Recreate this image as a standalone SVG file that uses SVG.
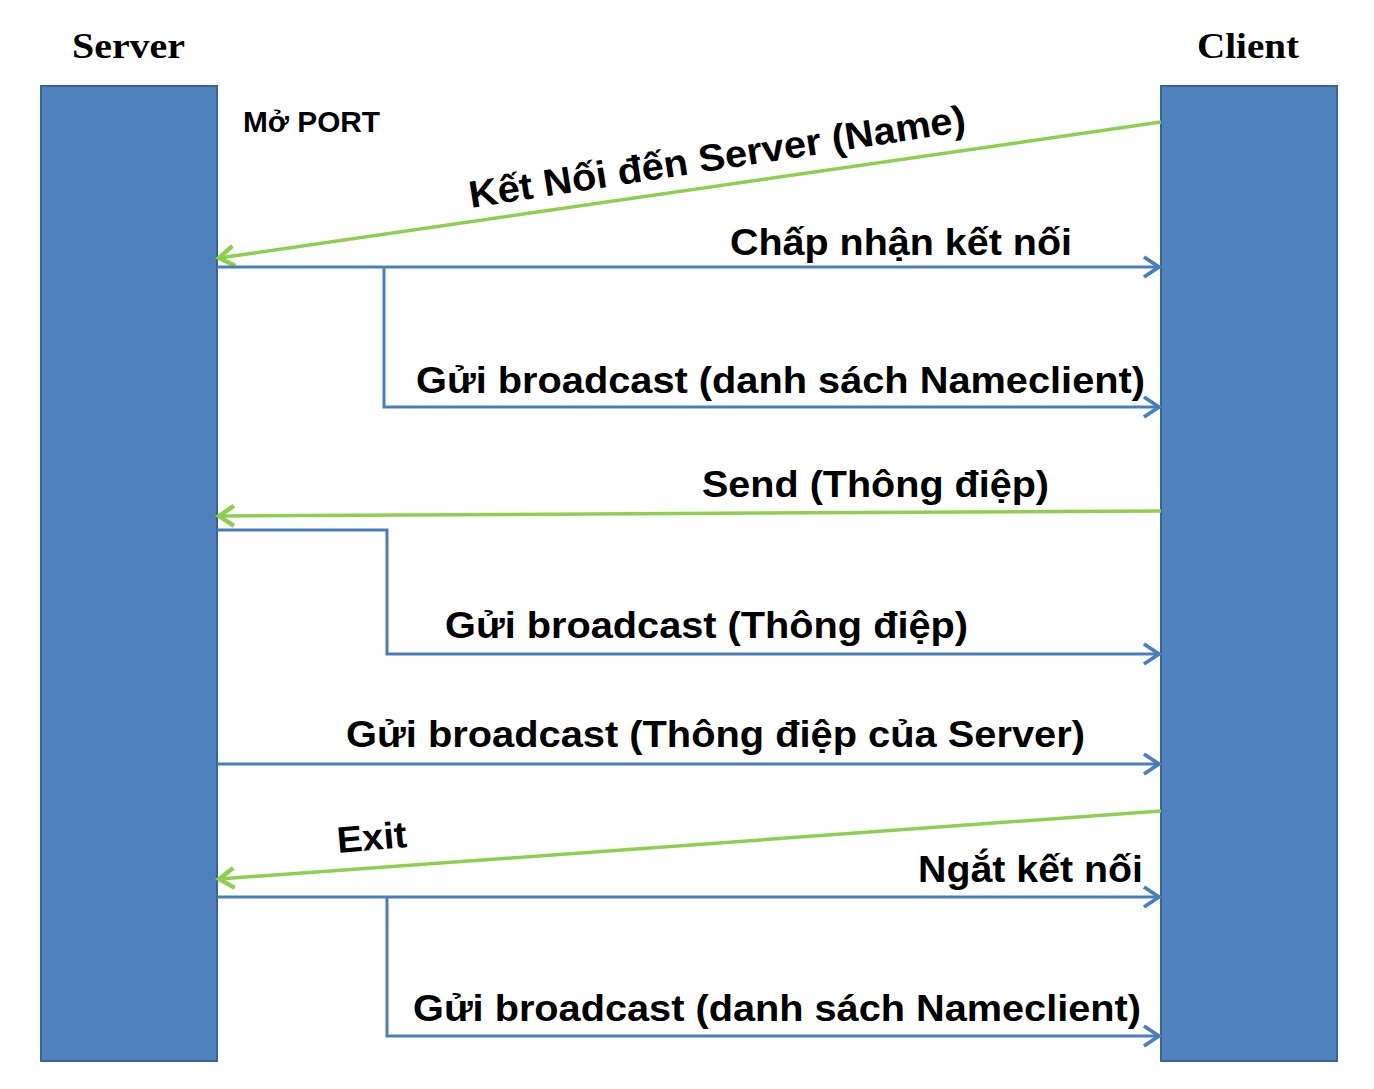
<svg xmlns="http://www.w3.org/2000/svg" width="1374" height="1089" viewBox="0 0 1374 1089">
<defs>
<style>
.lane{fill:#4F81BD;stroke:#3A6394;stroke-width:2}
.title{font-family:"Liberation Serif","Times New Roman",serif;font-weight:bold;font-size:36px;fill:#000}
.lbl{font-family:"Liberation Sans",Arial,sans-serif;font-weight:bold;font-size:37px;fill:#000}
.blue{fill:none;stroke:#4A7EBB;stroke-width:3}
.green{fill:none;stroke:#8DCF4F;stroke-width:3.5}
</style>
<marker id="ab" markerUnits="userSpaceOnUse" markerWidth="30" markerHeight="30" viewBox="-16 -12 20 24" refX="0" refY="0" orient="auto">
<path d="M-12,-8 L0,0 L-12,8" fill="none" stroke="#4A7EBB" stroke-width="3"/>
</marker>
<marker id="ag" markerUnits="userSpaceOnUse" markerWidth="30" markerHeight="30" viewBox="-16 -12 20 24" refX="0" refY="0" orient="auto">
<path d="M-12,-8 L0,0 L-12,8" fill="none" stroke="#8DCF4F" stroke-width="3.5"/>
</marker>
</defs>
<rect width="1374" height="1089" fill="#fff"/>
<g id="server">
<rect class="lane" x="41" y="86" width="176" height="975"/>
<text class="title" x="72" y="58" textLength="113" lengthAdjust="spacingAndGlyphs">Server</text>
</g>
<g id="client">
<rect class="lane" x="1161" y="86" width="176" height="975"/>
<text class="title" x="1197" y="58" textLength="102" lengthAdjust="spacingAndGlyphs">Client</text>
</g>
<g id="connectors">
<line class="green" x1="1161" y1="122" x2="219" y2="258" marker-end="url(#ag)"/>
<line class="blue" x1="217" y1="267" x2="1159" y2="267" marker-end="url(#ab)"/>
<polyline class="blue" points="384,267 384,407 1159,407" marker-end="url(#ab)"/>
<line class="green" x1="1161" y1="511" x2="219" y2="516" marker-end="url(#ag)"/>
<polyline class="blue" points="217,530 387,530 387,654 1159,654" marker-end="url(#ab)"/>
<line class="blue" x1="217" y1="764" x2="1159" y2="764" marker-end="url(#ab)"/>
<line class="green" x1="1161" y1="811" x2="219" y2="879" marker-end="url(#ag)"/>
<line class="blue" x1="217" y1="897" x2="1159" y2="897" marker-end="url(#ab)"/>
<polyline class="blue" points="387,897 387,1036 1159,1036" marker-end="url(#ab)"/>
</g>
<g id="labels">
<text class="lbl" x="243" y="132" style="font-size:29px" textLength="137" lengthAdjust="spacingAndGlyphs">Mở PORT</text>
<text class="lbl" transform="translate(471,208) rotate(-8.8)" x="0" y="0" style="font-size:38px" textLength="502" lengthAdjust="spacingAndGlyphs">Kết Nối đến Server (Name)</text>
<text class="lbl" x="730" y="255" textLength="342" lengthAdjust="spacingAndGlyphs">Chấp nhận kết nối</text>
<text class="lbl" x="416" y="393" textLength="729" lengthAdjust="spacingAndGlyphs">Gửi broadcast (danh sách Nameclient)</text>
<text class="lbl" x="702" y="497" textLength="347" lengthAdjust="spacingAndGlyphs">Send (Thông điệp)</text>
<text class="lbl" x="445" y="638" textLength="523" lengthAdjust="spacingAndGlyphs">Gửi broadcast (Thông điệp)</text>
<text class="lbl" x="346" y="747" textLength="739" lengthAdjust="spacingAndGlyphs">Gửi broadcast (Thông điệp của Server)</text>
<text class="lbl" transform="translate(338,853) rotate(-5)" x="0" y="0" textLength="70" lengthAdjust="spacingAndGlyphs">Exit</text>
<text class="lbl" x="918" y="882" textLength="225" lengthAdjust="spacingAndGlyphs">Ngắt kết nối</text>
<text class="lbl" x="413" y="1021" textLength="728" lengthAdjust="spacingAndGlyphs">Gửi broadcast (danh sách Nameclient)</text>
</g>
</svg>
